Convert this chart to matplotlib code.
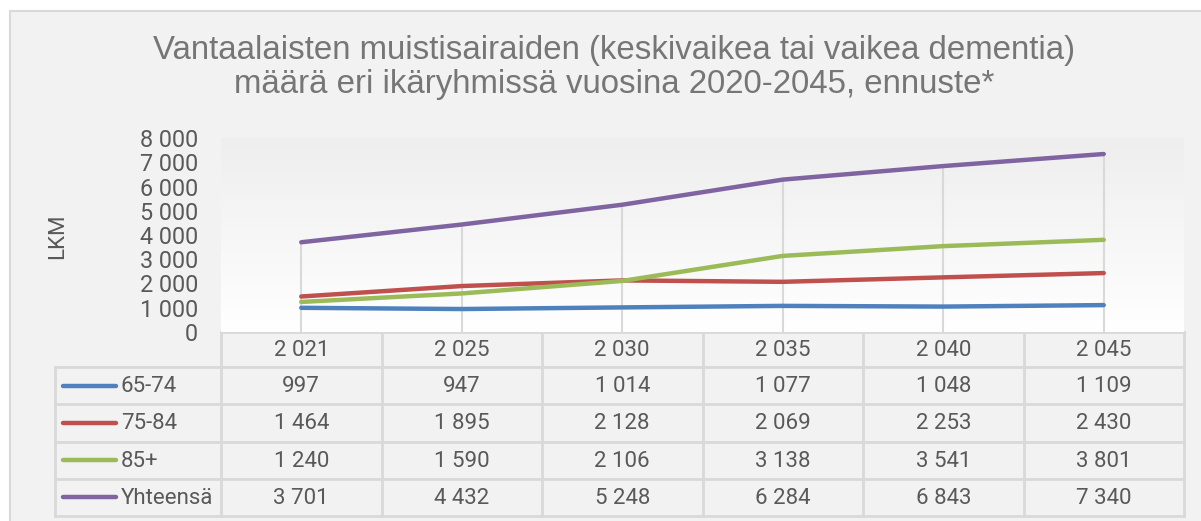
import matplotlib
matplotlib.use("Agg")
import matplotlib.pyplot as plt
import numpy as np
from matplotlib.colors import LinearSegmentedColormap

# ---- data ----
years = [2021, 2025, 2030, 2035, 2040, 2045]
series_names = ["65-74", "75-84", "85+", "Yhteensä"]
v_65_74 = [997, 947, 1014, 1077, 1048, 1109]
v_75_84 = [1464, 1895, 2128, 2069, 2253, 2430]
v_85 = [1240, 1590, 2106, 3138, 3541, 3801]
v_total = [3701, 4432, 5248, 6284, 6843, 7340]
series_values = [v_65_74, v_75_84, v_85, v_total]
colors = ["#4F81BD", "#C0504D", "#9BBB59", "#8064A2"]
title_lines = ["Vantaalaisten muistisairaiden (keskivaikea tai vaikea dementia)",
               "määrä eri ikäryhmissä vuosina 2020-2045, ennuste*"]
y_label = "LKM"
y_ticks = [0, 1000, 2000, 3000, 4000, 5000, 6000, 7000, 8000]


def fmt(v):
    return f"{v:,}".replace(",", "\u00a0")


W, H = 1201, 521
fig = plt.figure(figsize=(W / 100, H / 100), dpi=100)
fig.patch.set_facecolor("white")

ov = fig.add_axes([0, 0, 1, 1])
ov.set_xlim(0, W)
ov.set_ylim(H, 0)
ov.axis("off")
ov.set_zorder(0)

# outer chart frame
ov.add_patch(plt.Rectangle((10, 11), 1250, 600, facecolor="#f2f2f2",
                           edgecolor="#d9d9d9", lw=1.5, zorder=0))

TXT = "#595959"
FS = 16
num_font = "Roboto"

# title
ov.text(614, 50, title_lines[0], ha="center", va="center", fontsize=23.8,
        color="#767676", family="Liberation Sans")
ov.text(614, 84, title_lines[1], ha="center", va="center", fontsize=23.8,
        color="#767676", family="Liberation Sans")
ov.text(58, 236, y_label, ha="center", va="center", rotation=90,
        fontsize=FS, color=TXT, family=num_font)

# plot axes
L, R, T, B = 221, 1184, 138, 332
ax = fig.add_axes([L / W, (H - B) / H, (R - L) / W, (B - T) / H])
ax.set_zorder(1)
x = np.arange(len(years))
ax.set_xlim(-0.5, len(years) - 0.5)
grad = np.linspace(0, 1, 256).reshape(-1, 1)
cmap = LinearSegmentedColormap.from_list("g", ["#ffffff", "#eeeeee"])
ax.imshow(grad, extent=[-0.5, len(years) - 0.5, 8000, 0], aspect="auto",
          cmap=cmap, zorder=0, origin="upper")
ax.set_ylim(0, 8000)
ax.patch.set_visible(False)
for s in ax.spines.values():
    s.set_visible(False)

# drop lines
tops = np.max(np.array(series_values), axis=0)
ax.vlines(x, 0, tops, color="#d9d9d9", lw=1.5, zorder=1)

for vals, c in zip(series_values, colors):
    ax.plot(x, vals, color=c, lw=3.2, solid_capstyle="round", zorder=3)

ax.set_xticks([])
ax.set_yticks(y_ticks)
ax.set_yticklabels([fmt(t) for t in y_ticks], fontsize=16.8, color=TXT,
                   family=num_font)
ax.tick_params(axis="y", length=0, pad=16.5)

# data table
GRID = "#d9d9d9"
colw = (R - L) / len(years)
xb = [L + i * colw for i in range(len(years) + 1)]
hdr_top, hdr_bot = 332, 367.3
rowh = 37.1
row_b = [hdr_bot + k * rowh for k in range(len(series_names) + 1)]
leg_left = 55

ov.plot([L, R], [hdr_top, hdr_top], color=GRID, lw=2, zorder=2)
for xx in xb:
    ov.plot([xx, xx], [hdr_top, row_b[-1]], color=GRID, lw=2, zorder=2)
ov.plot([leg_left, leg_left], [row_b[0], row_b[-1]], color=GRID, lw=2, zorder=2)
for yy in row_b:
    ov.plot([leg_left, R], [yy, yy], color=GRID, lw=2, zorder=2)

for i, yr in enumerate(years):
    ov.text(L + (i + 0.5) * colw, (hdr_top + hdr_bot) / 2 + 1, fmt(yr),
            ha="center", va="center", fontsize=FS, color=TXT, family=num_font)

for k, (name, vals, c) in enumerate(zip(series_names, series_values, colors)):
    yc = (row_b[k] + row_b[k + 1]) / 2
    ov.plot([63, 116], [yc, yc], color=c, lw=3.2, solid_capstyle="round", zorder=3)
    ov.text(121, yc + 1, name, ha="left", va="center", fontsize=FS,
            color=TXT, family=num_font)
    for i, v in enumerate(vals):
        ov.text(L + (i + 0.5) * colw, yc + 1, fmt(v), ha="center",
                va="center", fontsize=FS, color=TXT, family=num_font)

fig.savefig("out.png", dpi=100, facecolor="white")
